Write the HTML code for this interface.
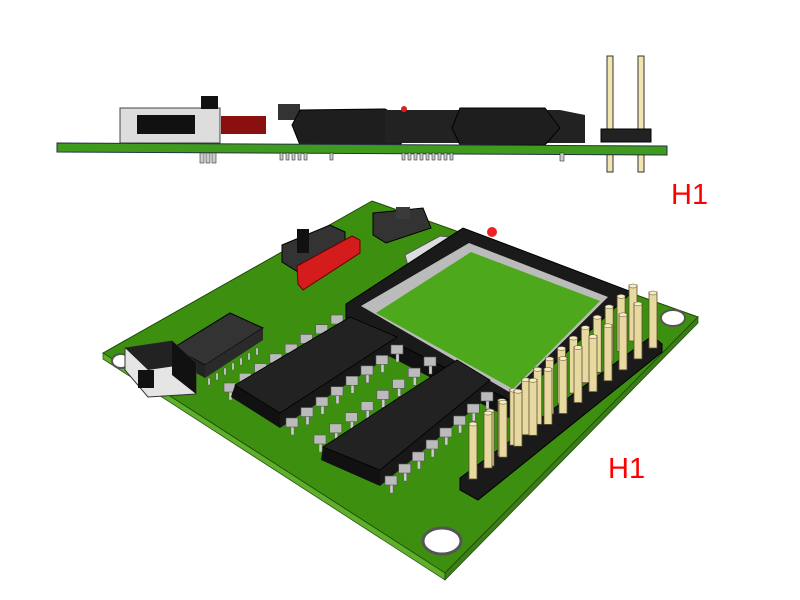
<!DOCTYPE html>
<html><head><meta charset="utf-8"><style>
html,body{margin:0;padding:0;background:#fff;width:800px;height:600px;overflow:hidden}
svg{position:absolute;left:0;top:0}
.t{font-family:"Liberation Sans",sans-serif;fill:#f00;font-size:29px}
</style></head><body>
<svg id="s" width="800" height="600" viewBox="0 0 800 600">
<!-- side view -->
<rect x="607" y="56" width="6" height="80" fill="#f2e6b0" stroke="#333" stroke-width="1"/>
<rect x="638" y="56" width="6" height="80" fill="#f2e6b0" stroke="#333" stroke-width="1"/>
<rect x="607" y="150" width="6" height="22" fill="#f2e6b0" stroke="#333" stroke-width="1"/>
<rect x="638" y="150" width="6" height="22" fill="#f2e6b0" stroke="#333" stroke-width="1"/>
<rect x="601" y="129" width="50" height="13" fill="#222" stroke="#000"/>
<rect x="120" y="108" width="100" height="35" fill="#ddd" stroke="#444"/>
<rect x="137" y="115" width="58" height="19" fill="#111"/>
<rect x="201" y="96" width="17" height="13" fill="#111"/>
<rect x="221" y="116" width="45" height="18" fill="#8a1010"/>
<rect x="278" y="104" width="22" height="16" fill="#333"/>
<polygon points="300,110 385,109 415,125 400,145 300,145 292,125" fill="#1e1e1e" stroke="#000"/>
<polygon points="385,110 560,110 585,115 585,143 385,143" fill="#222"/>
<polygon points="460,108 545,108 560,128 545,145 460,145 452,128" fill="#1e1e1e" stroke="#000"/>
<circle cx="404" cy="109" r="3" fill="#d22"/>
<polygon points="57,143 667,146 667,155 57,152" fill="#3f9a1e" stroke="#234" stroke-width="1"/>
<g fill="#ccc" stroke="#333" stroke-width="0.6">
<rect x="200" y="153" width="4" height="10"/><rect x="206" y="153" width="4" height="10"/><rect x="212" y="153" width="4" height="10"/>
<rect x="280" y="153" width="3" height="7"/><rect x="286" y="153" width="3" height="7"/><rect x="292" y="153" width="3" height="7"/><rect x="298" y="153" width="3" height="7"/><rect x="304" y="153" width="3" height="7"/>
<rect x="330" y="153" width="3" height="7"/>
<rect x="402" y="153" width="3" height="7"/><rect x="408" y="153" width="3" height="7"/><rect x="414" y="153" width="3" height="7"/><rect x="420" y="153" width="3" height="7"/><rect x="426" y="153" width="3" height="7"/><rect x="432" y="153" width="3" height="7"/><rect x="438" y="153" width="3" height="7"/><rect x="444" y="153" width="3" height="7"/><rect x="450" y="153" width="3" height="7"/>
<rect x="560" y="153" width="4" height="8"/>
</g>
<text class="t" x="671" y="204">H1</text>

<!-- board -->
<polygon points="103,353 372,201 698,317 445,573" fill="#3d8f10" stroke="#1d4a08" stroke-width="1"/>
<polygon points="103,353 445,573 445,580 103,359" fill="#5fae2c" stroke="#1d4a08" stroke-width="0.7"/>
<polygon points="445,573 698,317 698,323 445,580" fill="#3b7d18" stroke="#1d4a08" stroke-width="0.7"/>
<ellipse cx="673" cy="318" rx="12" ry="8" fill="#fff" stroke="#555" stroke-width="2"/>
<ellipse cx="442" cy="541" rx="19" ry="13" fill="#fff" stroke="#555" stroke-width="3"/>
<ellipse cx="121" cy="361" rx="9" ry="7" fill="#fff" stroke="#555" stroke-width="2"/>

<!-- top switch -->
<polygon points="282,245 330,225 345,232 345,242 298,272 282,262" fill="#333" stroke="#000"/>
<rect x="297" y="229" width="12" height="24" fill="#111"/>
<polygon points="297,266 352,236 360,240 360,253 303,290 298,284" fill="#d41c1c" stroke="#600"/>
<!-- button -->
<polygon points="373,213 423,208 431,228 386,243 373,235" fill="#333" stroke="#000"/>
<rect x="396" y="207" width="14" height="12" fill="#3a3a3a"/>
<!-- crystal -->
<polygon points="405,255 440,236 460,238 455,252 420,268 408,266" fill="#ddd" stroke="#555"/>
<circle cx="492" cy="232" r="5" fill="#e22"/>

<!-- QFP -->
<polygon points="346,318 513,402 513,420 346,334" fill="#111"/>
<polygon points="346,304 463,228 632,292 513,402 346,318" fill="#1a1a1a" stroke="#000"/>
<polygon points="361,306 469,243 608,297 511,393" fill="#bbb"/>
<polygon points="376,313 471,252 600,301 513,389" fill="#4ea81c"/>

<!-- DIPs -->
<g id="dlb"></g>
<polygon points="235,385 280,413 280,428 231,397" fill="#111"/>
<polygon points="280,413 397,337 399,350 280,428" fill="#181818"/>
<polygon points="235,385 350,317 397,337 280,413" fill="#222" stroke="#000" stroke-width="0.8"/>
<polygon points="323,447 380,470 380,486 321,460" fill="#111"/>
<polygon points="380,470 490,380 492,394 380,486" fill="#181818"/>
<polygon points="323,447 457,360 490,380 380,470" fill="#222" stroke="#000" stroke-width="0.8"/>
<g id="dl"></g>

<!-- SOIC -->
<polygon points="173,348 230,313 263,328 205,365" fill="#333" stroke="#000"/>
<polygon points="173,348 205,365 205,378 173,360" fill="#222"/>
<polygon points="205,365 263,328 263,340 205,378" fill="#2a2a2a"/>
<g id="sl"></g>

<!-- left switch -->
<polygon points="125,348 172,341 196,363 196,394 148,397 125,370" fill="#e5e5e5" stroke="#333"/>
<polygon points="125,348 172,341 196,363 148,370" fill="#222"/>
<polygon points="172,341 196,363 196,394 172,375" fill="#111"/>
<rect x="138" y="370" width="16" height="18" fill="#111"/>

<!-- header -->
<polygon points="460,478 652,336 662,344 662,352 478,500 460,490" fill="#1a1a1a" stroke="#000"/>
<g id="pins"></g>

<text class="t" x="608" y="478">H1</text>
</svg>
<script>
var ns="http://www.w3.org/2000/svg";
function el(p,t,a){var e=document.createElementNS(ns,t);for(var k in a)e.setAttribute(k,a[k]);p.appendChild(e);return e}
var pins=document.getElementById('pins');
for(var r=0;r<2;r++){for(var i=0;i<13;i++){
 var x0=r?473:490,y0=r?423:410,x1=r?653:633,y1=r?292:285;
 var x=x0+(x1-x0)*i/12,y=y0+(y1-y0)*i/12;
 el(pins,'rect',{x:x-4,y:y,width:8,height:56,fill:'#e8d9a0',stroke:'#5a5030','stroke-width':0.8});
 el(pins,'ellipse',{cx:x,cy:y+1,rx:4,ry:2,fill:'#f5ecc5',stroke:'#5a5030','stroke-width':0.5});
}}
function leads(g,ax,ay,bx,by,n){for(var i=0;i<n;i++){var x=ax+(bx-ax)*i/(n-1),y=ay+(by-ay)*i/(n-1);
 el(g,'rect',{x:x-1,y:y+3,width:3,height:9,fill:'#ccc',stroke:'#555','stroke-width':0.4});
 el(g,'rect',{x:x-6,y:y-5,width:12,height:9,fill:'#bbb',stroke:'#555','stroke-width':0.6});}}
var dlb=document.getElementById('dlb'),dl=document.getElementById('dl');
leads(dlb,230,388,337,320,8);leads(dlb,320,440,430,362,8);
leads(dl,292,423,397,350,8);leads(dl,391,481,487,397,8);
var sl=document.getElementById('sl');
for(var i=0;i<7;i++){var x=208+i*8,y=378-i*5;el(sl,'rect',{x:x,y:y,width:2,height:7,fill:'#ddd',stroke:'#444','stroke-width':0.4});}
</script>
</body></html>
